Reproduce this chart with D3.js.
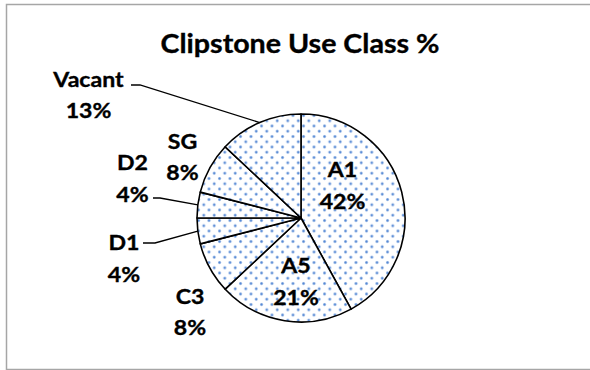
<!DOCTYPE html>
<html>
<head>
<meta charset="utf-8">
<script src="https://cdn.jsdelivr.net/npm/d3@7"></script>
<style>
  body { margin: 0; background: #fff; }
  svg { display: block; }
</style>
</head>
<body>
<svg id="chart" width="590" height="370"></svg>
<script>
// Use class shares for Clipstone, clockwise from 12 o'clock
const categories = ["A1", "A5", "C3", "D1", "D2", "SG", "Vacant"];
const shares = [42, 21, 8, 4, 4, 8, 13];
const pctLabels = ["42%", "21%", "8%", "4%", "4%", "8%", "13%"];
const chartTitle = "Clipstone Use Class %";

const W = 590, H = 370;
const cx = 301, cy = 218, R = 104;
const FONT = "Lato, 'Open Sans', sans-serif";
const textStretch = 1.1;

// label anchor (centre x, first-line baseline) per category
const labelLayout = {
  A1: { x: 342.5, y: 177 },
  A5: { x: 296, y: 273 },
  C3: { x: 190, y: 303.5 },
  D1: { x: 124, y: 250 },
  D2: { x: 132.5, y: 170 },
  SG: { x: 182.5, y: 148.5 },
  Vacant: { x: 88.5, y: 86.7 }
};
const lineGap = 31.5;
// leader line start points (label side) for outside labels
const leaderStarts = {
  Vacant: [[131, 85], [140, 85]],
  D2: [[153, 198], [160, 198]],
  D1: [[143, 243], [155, 243]]
};

const svg = d3.select("#chart");

// chart area frame
svg.append("rect")
  .attr("x", 6.5).attr("y", 4.5)
  .attr("width", 600).attr("height", 365)
  .attr("fill", "#fff")
  .attr("stroke", "#a6a6a6").attr("stroke-width", 1.5);

// dotted fill used by every slice
const defs = svg.append("defs");
const tile = 10.5;
const pat = defs.append("pattern")
  .attr("id", "dots")
  .attr("patternUnits", "userSpaceOnUse")
  .attr("width", tile).attr("height", tile);
pat.append("rect").attr("width", tile).attr("height", tile).attr("fill", "#fff");
[[2.5, 2.5], [2.5 + tile / 2, 2.5 + tile / 2]].forEach(([x, y]) => {
  pat.append("circle").attr("cx", x).attr("cy", y).attr("r", 1.5).attr("fill", "#7ea6df");
  pat.append("circle").attr("cx", x).attr("cy", y).attr("r", 0.8).attr("fill", "#4f83d3");
});

const data = categories.map((c, i) => ({ cat: c, value: shares[i], pct: pctLabels[i] }));
const pie = d3.pie().sort(null).value(d => d.value);
const arcs = pie(data);
const arc = d3.arc().innerRadius(0).outerRadius(R);

const g = svg.append("g").attr("transform", `translate(${cx},${cy})`);
g.selectAll("path.slice")
  .data(arcs)
  .join("path")
  .attr("class", "slice")
  .attr("d", arc)
  .attr("fill", "url(#dots)")
  .attr("stroke", "#000")
  .attr("stroke-width", 1.6)
  .attr("stroke-linejoin", "round");

// leader lines from outside labels to the rim at the slice's mid-angle
const line = d3.line();
arcs.forEach(a => {
  const starts = leaderStarts[a.data.cat];
  if (!starts) return;
  const mid = (a.startAngle + a.endAngle) / 2;
  const rim = [cx + R * Math.sin(mid), cy - R * Math.cos(mid)];
  svg.append("path")
    .attr("d", line([...starts, rim]))
    .attr("fill", "none")
    .attr("stroke", "#000")
    .attr("stroke-width", 1.3);
});

function stretchedText(x, y, str, size) {
  const grp = svg.append("g").attr("transform", `translate(${x},${y}) scale(${textStretch},1)`);
  grp.append("text")
    .attr("text-anchor", "middle")
    .attr("font-family", FONT)
    .attr("font-weight", "bold")
    .attr("font-size", size)
    .attr("fill", "#000")
    .attr("stroke", "#000")
    .attr("stroke-width", 0.35)
    .text(str);
}

// data labels: category on the first line, percentage below
arcs.forEach(a => {
  const pos = labelLayout[a.data.cat];
  stretchedText(pos.x, pos.y, a.data.cat, 21);
  stretchedText(pos.x, pos.y + lineGap, a.data.pct, 21);
});

// title
stretchedText(300, 53.3, chartTitle, 26);
</script>
</body>
</html>
